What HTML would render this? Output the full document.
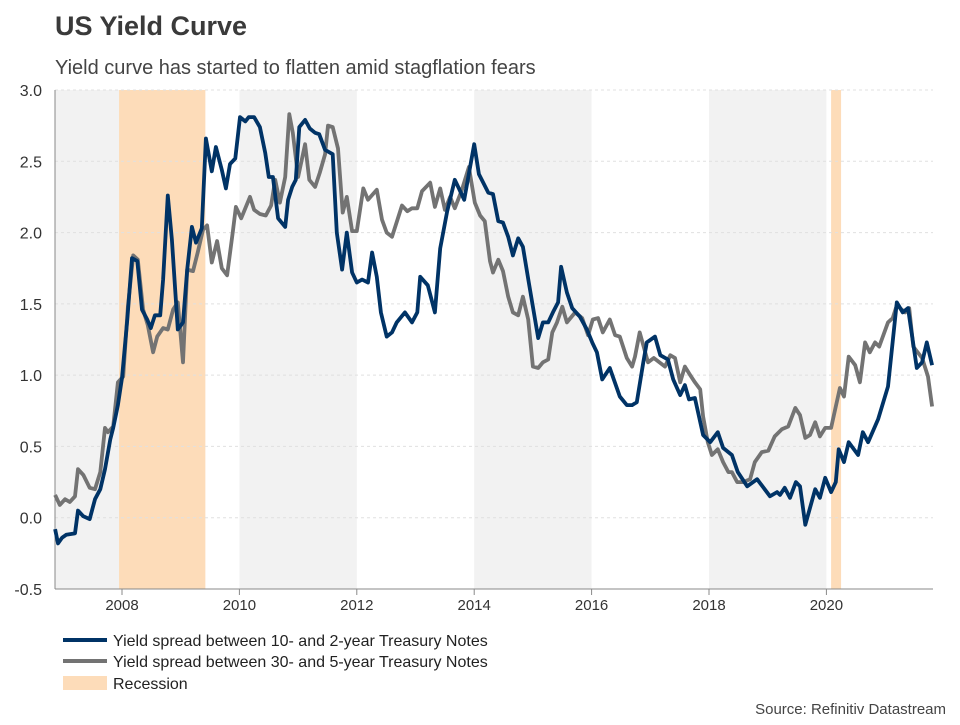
<!DOCTYPE html>
<html><head><meta charset="utf-8"><style>
body{margin:0;background:#fff;font-family:"Liberation Sans",sans-serif;}
svg text{font-family:"Liberation Sans",sans-serif;}
</style></head><body>
<svg id="chart" width="960" height="720" viewBox="0 0 960 720" xmlns="http://www.w3.org/2000/svg">
<text x="55" y="35" font-size="27" font-weight="bold" fill="#3a3a3a">US Yield Curve</text>
<text x="55" y="74" font-size="20" fill="#444">Yield curve has started to flatten amid stagflation fears</text>
<g id="bands"></g><g id="grid"></g><g id="axes"></g><g id="series"></g>
<g>
<line x1="63" y1="640" x2="107" y2="640" stroke="#003366" stroke-width="4"/>
<text x="113" y="646" font-size="16" fill="#222">Yield spread between 10- and 2-year Treasury Notes</text>
<line x1="63" y1="661" x2="107" y2="661" stroke="#737373" stroke-width="4"/>
<text x="113" y="667" font-size="16" fill="#222">Yield spread between 30- and 5-year Treasury Notes</text>
<rect x="63" y="676" width="44" height="14" fill="#fddcb9"/>
<text x="113" y="689" font-size="16" fill="#222">Recession</text>
</g>
<text x="946" y="714" font-size="15" fill="#444" text-anchor="end">Source: Refinitiv Datastream</text>
</svg>
<script>
const yTicks=[-0.5,0,0.5,1,1.5,2,2.5,3];
const xTicks=[2008,2010,2012,2014,2016,2018,2020];
const grayBands=[[2006.86,2008],[2010,2012],[2014,2016],[2018,2020]];
const recessions=[[2007.95,2009.42],[2020.08,2020.25]];
const dates10=[2006.86,2006.91,2006.98,2007.05,2007.20,2007.25,2007.34,2007.45,2007.54,2007.63,2007.71,2007.80,2007.85,2007.93,2008.00,2008.09,2008.17,2008.26,2008.34,2008.43,2008.49,2008.56,2008.65,2008.70,2008.78,2008.85,2008.95,2009.04,2009.11,2009.19,2009.26,2009.36,2009.43,2009.53,2009.60,2009.70,2009.77,2009.84,2009.93,2010.01,2010.10,2010.16,2010.25,2010.35,2010.44,2010.50,2010.57,2010.66,2010.78,2010.83,2010.90,2010.96,2011.02,2011.12,2011.20,2011.29,2011.36,2011.46,2011.59,2011.66,2011.75,2011.83,2011.92,2012.00,2012.09,2012.19,2012.26,2012.34,2012.41,2012.51,2012.60,2012.68,2012.82,2012.94,2013.03,2013.08,2013.21,2013.33,2013.42,2013.54,2013.67,2013.74,2013.83,2013.93,2014.00,2014.08,2014.24,2014.32,2014.41,2014.49,2014.58,2014.66,2014.75,2014.83,2014.93,2015.09,2015.17,2015.26,2015.34,2015.43,2015.48,2015.58,2015.67,2015.80,2015.92,2016.01,2016.09,2016.18,2016.31,2016.48,2016.60,2016.69,2016.77,2016.88,2016.94,2017.08,2017.17,2017.30,2017.39,2017.51,2017.59,2017.66,2017.76,2017.90,2018.02,2018.15,2018.24,2018.39,2018.49,2018.65,2018.82,2019.04,2019.16,2019.21,2019.29,2019.38,2019.48,2019.55,2019.64,2019.81,2019.89,2019.98,2020.08,2020.16,2020.21,2020.30,2020.38,2020.54,2020.62,2020.71,2020.88,2021.05,2021.20,2021.30,2021.39,2021.54,2021.63,2021.71,2021.80];
const spread10y2y=[-0.08,-0.18,-0.14,-0.12,-0.11,0.05,0.01,-0.01,0.13,0.20,0.34,0.55,0.63,0.79,0.98,1.39,1.82,1.80,1.46,1.39,1.33,1.42,1.42,1.67,2.26,1.95,1.32,1.37,1.74,2.04,1.93,2.03,2.66,2.43,2.60,2.44,2.31,2.48,2.52,2.81,2.78,2.81,2.81,2.74,2.56,2.39,2.39,2.10,2.04,2.23,2.32,2.37,2.74,2.79,2.73,2.70,2.69,2.58,2.55,2.00,1.74,2.00,1.72,1.65,1.67,1.65,1.86,1.69,1.44,1.27,1.30,1.37,1.44,1.37,1.44,1.69,1.63,1.44,1.89,2.15,2.37,2.31,2.23,2.46,2.62,2.41,2.28,2.27,2.08,2.07,1.97,1.84,1.96,1.90,1.65,1.26,1.37,1.37,1.44,1.51,1.76,1.58,1.47,1.41,1.32,1.23,1.16,0.97,1.05,0.85,0.79,0.79,0.81,1.09,1.23,1.27,1.14,1.11,0.97,0.86,0.93,0.83,0.84,0.58,0.53,0.60,0.49,0.44,0.32,0.22,0.27,0.15,0.18,0.16,0.21,0.14,0.25,0.22,-0.05,0.20,0.14,0.28,0.18,0.25,0.48,0.39,0.53,0.44,0.60,0.53,0.69,0.92,1.51,1.44,1.47,1.05,1.09,1.23,1.07];
const dates30=[2006.86,2006.94,2007.03,2007.11,2007.20,2007.25,2007.34,2007.45,2007.54,2007.63,2007.71,2007.76,2007.85,2007.93,2008.02,2008.10,2008.19,2008.27,2008.36,2008.44,2008.53,2008.60,2008.70,2008.78,2008.87,2008.95,2009.04,2009.11,2009.21,2009.29,2009.38,2009.45,2009.53,2009.62,2009.70,2009.79,2009.89,2009.94,2010.03,2010.18,2010.25,2010.35,2010.45,2010.54,2010.61,2010.69,2010.78,2010.85,2010.91,2011.00,2011.12,2011.19,2011.29,2011.37,2011.46,2011.51,2011.59,2011.68,2011.76,2011.83,2011.92,2012.00,2012.11,2012.19,2012.34,2012.43,2012.51,2012.60,2012.77,2012.86,2012.94,2013.03,2013.11,2013.25,2013.33,2013.42,2013.50,2013.59,2013.67,2013.79,2013.91,2014.01,2014.10,2014.18,2014.27,2014.32,2014.41,2014.49,2014.58,2014.66,2014.75,2014.83,2014.92,2015.00,2015.09,2015.17,2015.26,2015.33,2015.41,2015.50,2015.58,2015.72,2015.84,2015.94,2016.02,2016.11,2016.19,2016.31,2016.40,2016.48,2016.60,2016.69,2016.74,2016.82,2016.96,2017.06,2017.25,2017.34,2017.42,2017.51,2017.59,2017.68,2017.76,2017.85,2017.90,2017.98,2018.05,2018.15,2018.24,2018.33,2018.39,2018.48,2018.58,2018.70,2018.78,2018.90,2019.01,2019.12,2019.24,2019.35,2019.47,2019.55,2019.64,2019.72,2019.81,2019.89,2019.98,2020.08,2020.16,2020.23,2020.30,2020.38,2020.49,2020.57,2020.66,2020.74,2020.83,2020.90,2021.05,2021.13,2021.20,2021.34,2021.41,2021.48,2021.63,2021.73,2021.80];
const spread30y5y=[0.16,0.09,0.13,0.11,0.15,0.34,0.30,0.21,0.20,0.32,0.63,0.60,0.64,0.95,0.99,1.48,1.84,1.81,1.46,1.35,1.16,1.27,1.33,1.32,1.46,1.51,1.09,1.74,1.73,1.86,2.02,2.05,1.79,1.94,1.75,1.70,2.01,2.18,2.10,2.25,2.16,2.13,2.12,2.19,2.37,2.21,2.39,2.83,2.70,2.39,2.62,2.37,2.32,2.42,2.55,2.75,2.74,2.59,2.14,2.25,2.01,2.01,2.31,2.23,2.30,2.09,2.00,1.97,2.19,2.15,2.17,2.17,2.29,2.35,2.18,2.31,2.16,2.25,2.17,2.30,2.46,2.21,2.12,2.08,1.80,1.72,1.81,1.73,1.55,1.44,1.42,1.55,1.39,1.06,1.05,1.09,1.11,1.30,1.37,1.48,1.37,1.44,1.40,1.28,1.39,1.40,1.30,1.39,1.28,1.27,1.12,1.06,1.13,1.30,1.09,1.12,1.06,1.14,1.12,0.95,1.06,1.00,0.95,0.90,0.71,0.53,0.44,0.48,0.39,0.32,0.32,0.25,0.25,0.27,0.39,0.46,0.47,0.57,0.62,0.64,0.77,0.72,0.56,0.58,0.67,0.57,0.63,0.63,0.78,0.91,0.85,1.13,1.07,0.95,1.23,1.16,1.23,1.20,1.37,1.40,1.49,1.44,1.47,1.20,1.12,0.99,0.78];

const NS='http://www.w3.org/2000/svg';
const X0=55,X1=933,Y0=90,Y1=589;
const xScale=t=>122+(t-2008)*58.7;
const yScale=v=>Y1-(v-(-0.5))/3.5*(Y1-Y0);
function mk(tag,attrs,parent){const e=document.createElementNS(NS,tag);for(const k in attrs)e.setAttribute(k,attrs[k]);document.getElementById(parent).appendChild(e);return e;}
grayBands.forEach(b=>{const x=Math.max(X0,xScale(b[0]));
 const r=mk('rect',{x:x,y:Y0,width:xScale(b[1])-x,height:Y1-Y0,fill:'#f2f2f2'},'bands');
 
 });
recessions.forEach(b=>{const x=Math.max(X0,xScale(b[0]));
 const r=mk('rect',{x:x,y:Y0,width:xScale(b[1])-x,height:Y1-Y0,fill:'#fddcb9'},'bands');
 
 });
yTicks.forEach(v=>{const y=yScale(v);
 if(v>-0.5){const l=mk('line',{x1:X0,x2:X1,y1:y,y2:y,stroke:'#e0e0e0','stroke-dasharray':'3,3','stroke-width':1},'grid');
 
 }
 const t=mk('text',{x:42,y:y+6,'font-size':16,fill:'#333','text-anchor':'end'},'axes');t.textContent=v.toFixed(1);
 
 });
xTicks.forEach(v=>{const x=xScale(v);
 mk('line',{x1:x,x2:x,y1:Y1,y2:Y1+6,stroke:'#888'},'axes');
 const t=mk('text',{x:x,y:Y1+21,'font-size':15,fill:'#333','text-anchor':'middle'},'axes');t.textContent=v;
 
 });
const ax=mk('line',{x1:X0,x2:X0,y1:Y0,y2:Y1,stroke:'#888'},'axes');


const bx=mk('line',{x1:X0,x2:X1,y1:Y1,y2:Y1,stroke:'#888'},'axes');


function line(d,v,col,name){const p=mk('polyline',{points:d.map((t,i)=>xScale(t).toFixed(1)+','+yScale(v[i]).toFixed(1)).join(' '),fill:'none',stroke:col,'stroke-width':3.8,'stroke-linejoin':'round'},'series');
 
 }
line(dates30,spread30y5y,'#737373','line-30y-5y-spread');
line(dates10,spread10y2y,'#003366','line-10y-2y-spread');
</script>
</body></html>
